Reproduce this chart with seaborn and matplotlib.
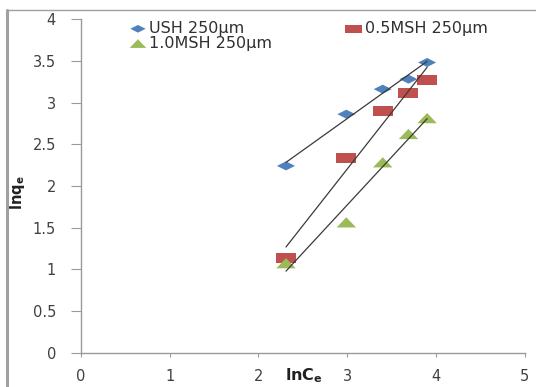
import numpy as np
import pandas as pd
import seaborn as sns
import matplotlib
matplotlib.use("Agg")
import matplotlib.pyplot as plt
from matplotlib.markers import MarkerStyle
from matplotlib.ticker import MultipleLocator, FuncFormatter
from matplotlib.lines import Line2D

# data
lnce = [2.31, 2.99, 3.40, 3.69, 3.90]
ush = [2.24, 2.86, 3.16, 3.28, 3.48]
msh05 = [1.14, 2.33, 2.90, 3.12, 3.27]
msh10 = [1.07, 1.56, 2.28, 2.62, 2.81]
labels = ["USH 250\u00b5m", "0.5MSH 250\u00b5m", "1.0MSH 250\u00b5m"]
colors = ["#4F81BD", "#C0504D", "#9BBB59"]

sns.set_style("white")
plt.rcParams['font.family'] = ['DejaVu Sans']

# wide, flat markers like in the picture
diamond = MarkerStyle([(-1, 0), (0, 0.5), (1, 0), (0, -0.5), (-1, 0)])
square = MarkerStyle([(-1, -0.5), (1, -0.5), (1, 0.5), (-1, 0.5), (-1, -0.5)])
triangle = MarkerStyle([(-1, -0.5), (1, -0.5), (0, 0.55), (-1, -0.5)])
markers = [diamond, square, triangle]
sizes = [13, 14.4, 14]

fig = plt.figure(figsize=(5.36, 3.87), dpi=100)
ax = fig.add_axes([0.151, 0.0886, 0.828, 0.862])

series = [ush, msh05, msh10]
for ys, lab, col, mk, sz in zip(series, labels, colors, markers, sizes):
    df = pd.DataFrame({"x": lnce, "y": ys})
    sns.scatterplot(data=df, x="x", y="y", marker=mk, s=sz ** 2, color=col,
                    edgecolor="none", label=lab, ax=ax, zorder=3)
    sns.regplot(data=df, x="x", y="y", scatter=False, ci=None, truncate=True,
                line_kws=dict(color="#3a3a3a", lw=0.9, zorder=4), ax=ax)

ax.set_xlim(0, 5)
ax.set_ylim(0, 4)
ax.xaxis.set_major_locator(MultipleLocator(1))
ax.yaxis.set_major_locator(MultipleLocator(0.5))
fmt = FuncFormatter(lambda v, p: "{:g}".format(v))
ax.xaxis.set_major_formatter(fmt)
ax.yaxis.set_major_formatter(fmt)

for s in ["top", "right"]:
    ax.spines[s].set_visible(False)
for s in ["left", "bottom"]:
    ax.spines[s].set_color("#9a9a9a")
    ax.spines[s].set_linewidth(1.0)

ax.tick_params(axis="y", direction="out", length=7, width=0.8, color="#9a9a9a",
               pad=11, labelsize=10.5, labelcolor="#404040", left=True)
ax.tick_params(axis="x", direction="out", length=3, width=0.8, color="#9a9a9a",
               pad=9, labelsize=10.5, labelcolor="#404040", bottom=True)

ax.set_xlabel(r"$\mathbf{lnC_e}$", fontsize=11.5, color="#202020")
ax.xaxis.set_label_coords(0.502, -0.04)
ax.set_ylabel(r"$\mathbf{lnq_e}$", fontsize=10.5, color="#202020")
ax.yaxis.set_label_coords(-0.121, 0.48)

# legend: two columns, no frame
h, l = ax.get_legend_handles_labels()
order = [0, 2, 1]
leg = ax.legend([h[i] for i in order], [l[i] for i in order], ncol=2,
                loc="upper left", bbox_to_anchor=(122 / 536, 1 - 13 / 387),
                bbox_transform=fig.transFigure, frameon=False, fontsize=11.5,
                handletextpad=0.2, columnspacing=4.6, labelspacing=0.0,
                handlelength=1.0, borderpad=0, markerscale=0.85)
for t in leg.get_texts():
    t.set_color("#303030")

# outer chart border
fig.add_artist(Line2D([7 / 536, 7 / 536], [0, 1 - 10 / 387], color="#a0a0a0",
                      lw=2.2, transform=fig.transFigure))
fig.add_artist(Line2D([7 / 536, 1], [1 - 10 / 387, 1 - 10 / 387], color="#a0a0a0",
                      lw=1.0, transform=fig.transFigure))

fig.savefig("out.png", dpi=100)
